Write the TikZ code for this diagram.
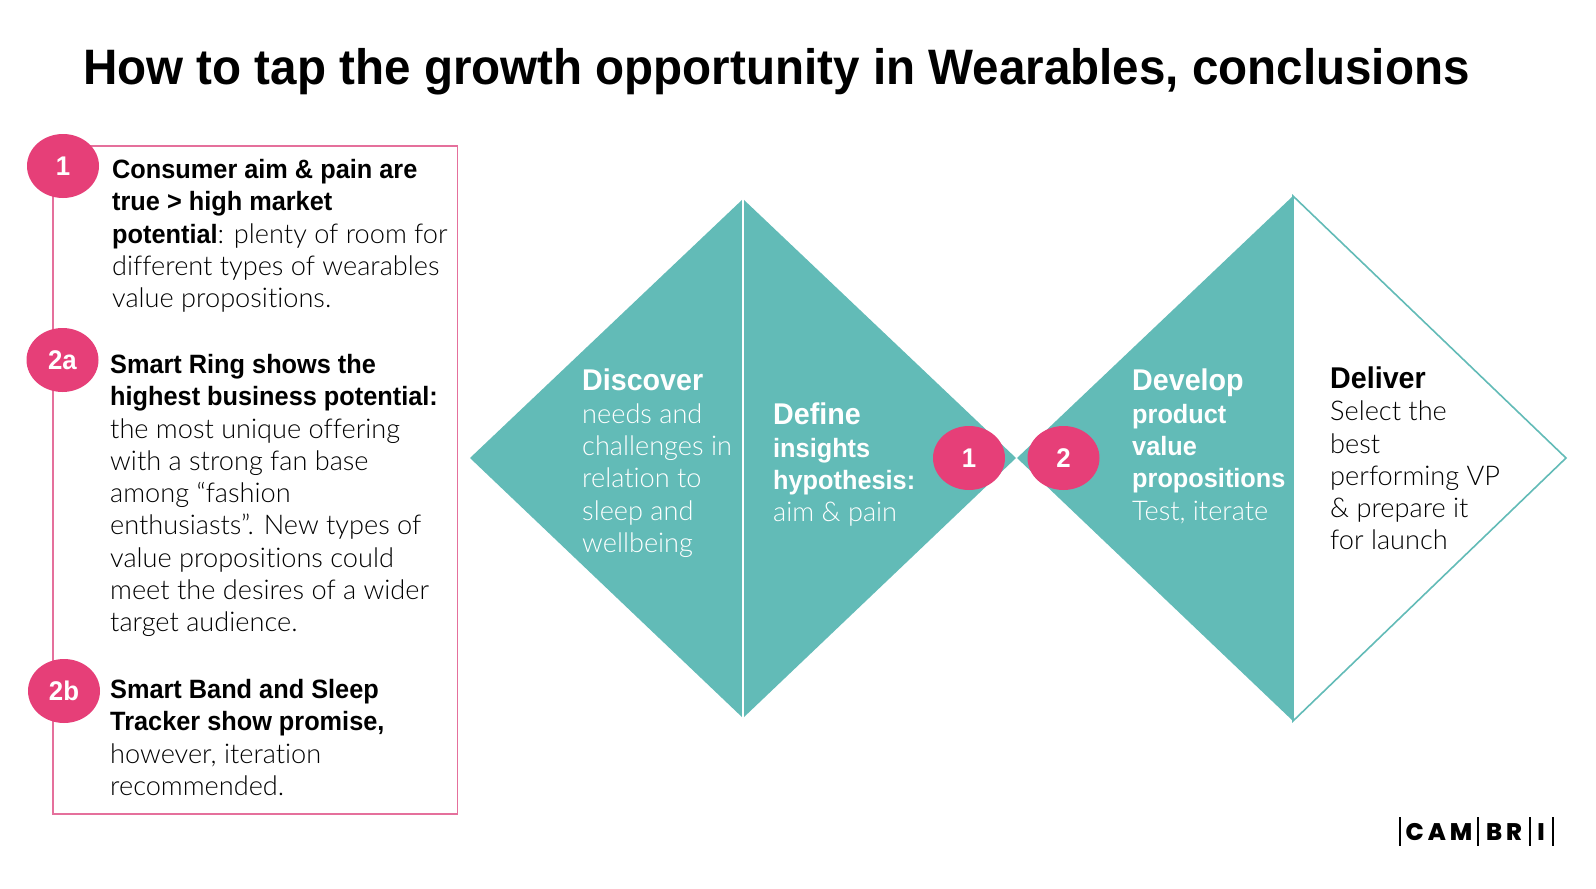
\documentclass[tikz,border=0pt]{standalone}
\usepackage{fontspec}
\setmainfont{Liberation Sans}[FakeStretch=0.955]
\newfontfamily\lightf{Lato Light}[Scale=1.025,Ligatures=NoCommon]
\newfontfamily\heavyf{Poppins}[BoldFont=Poppins ExtraBold]
\definecolor{teal1}{HTML}{62BBB7}
\definecolor{pink1}{HTML}{E63F78}
\definecolor{pink2}{HTML}{E5709C}
\newcommand{\lt}[1]{{\lightf #1}}
\tikzset{x=1pt,y=-1pt,
  badge/.style={ellipse,fill=pink1,minimum width=72pt,minimum height=64pt,inner sep=0pt,text=white,font=\fontsize{27}{27}\selectfont\bfseries},
  bodytext/.style={anchor=north west,inner sep=0pt,align=left,text=black,font=\fontsize{26.5}{32.3}\selectfont},
  teallabel/.style={anchor=north west,inner sep=0pt,align=left,text=white,font=\fontsize{26.5}{32.3}\selectfont},
  logotext/.style={inner sep=0pt,font=\fontsize{24}{24}\selectfont\heavyf\bfseries},
  bartick/.style={line width=1.6pt,black},
}
\usetikzlibrary{shapes.geometric}
\newcommand{\hd}[1]{{\fontsize{30}{32.3}\selectfont\textbf{#1}}}
\begin{document}
\begin{tikzpicture}
\useasboundingbox (0,0) rectangle (1596,889);
\fill[white] (0,0) rectangle (1596,889);
\node[anchor=base west,inner sep=0pt,font=\fontsize{49.8}{50}\selectfont\bfseries] (title) at (83,84) {How to tap the growth opportunity in Wearables, conclusions};
% frame
\draw[pink2,line width=1.6pt] (53,146) rectangle (457.5,814);
% diamonds
\fill[teal1] (470,458) -- (743,199) -- (1016,458) -- (743,718) -- cycle;
\draw[white,line width=2pt] (743,199) -- (743,718);
\fill[teal1] (1017,458) -- (1293,196) -- (1293,721) -- cycle;
\fill[white] (1293,196) -- (1566,458) -- (1293,721) -- cycle;
\draw[teal1,line width=1.6pt] (1293,196) -- (1566,458) -- (1293,721) -- cycle;
% badges
\node[badge] (b1) at (63,166) {1};
\node[badge] (b2a) at (62.5,360) {2a};
\node[badge] (b2b) at (64,691) {2b};
\node[badge] (c1) at (969,458) {1};
\node[badge] (c2) at (1063.5,458) {2};
% left text
\node[bodytext] (t1) at (112,159) {\textbf{Consumer aim \& pain are}\\\textbf{true > high market}\\\textbf{potential}\lt{: plenty of room for}\\\lt{different types of wearables}\\\lt{value propositions.}};
\node[bodytext] (t2) at (110,354) {\textbf{Smart Ring shows the}\\\textbf{highest business potential:}\\\lt{the most unique offering}\\\lt{with a strong fan base}\\\lt{among “fashion}\\\lt{enthusiasts”. New types of}\\\lt{value propositions could}\\\lt{meet the desires of a wider}\\\lt{target audience.}};
\node[bodytext] (t3) at (110,679) {\textbf{Smart Band and Sleep}\\\textbf{Tracker show promise,}\\\lt{however, iteration}\\\lt{recommended.}};
% diamond labels
\node[teallabel] (d1) at (582,369) {\hd{Discover}\\\lt{needs and}\\\lt{challenges in}\\\lt{relation to}\\\lt{sleep and}\\\lt{wellbeing}};
\node[teallabel] (d2) at (773,403) {\hd{Define}\\\textbf{insights}\\\textbf{hypothesis:}\\\lt{aim \& pain}};
\node[teallabel] (d3) at (1132,369) {\hd{Develop}\\\textbf{product}\\\textbf{value}\\\textbf{propositions}\\\lt{Test, iterate}};
\node[bodytext] (d4) at (1330,366.5) {\hd{Deliver}\\\lt{Select the}\\\lt{best}\\\lt{performing VP}\\\lt{\& prepare it}\\\lt{for launch}};
% logo
\draw[bartick] (1400,817) -- (1400,846);
\draw[bartick] (1478,817) -- (1478,846);
\draw[bartick] (1530,817) -- (1530,846);
\draw[bartick] (1553,817) -- (1553,846);
\node[logotext] (l1) at (1439,832.5) {C\,A\,M};
\node[logotext] (l2) at (1504,832.5) {B\,R};
\node[logotext] (l3) at (1541,832.5) {I};
\end{tikzpicture}
\end{document}
